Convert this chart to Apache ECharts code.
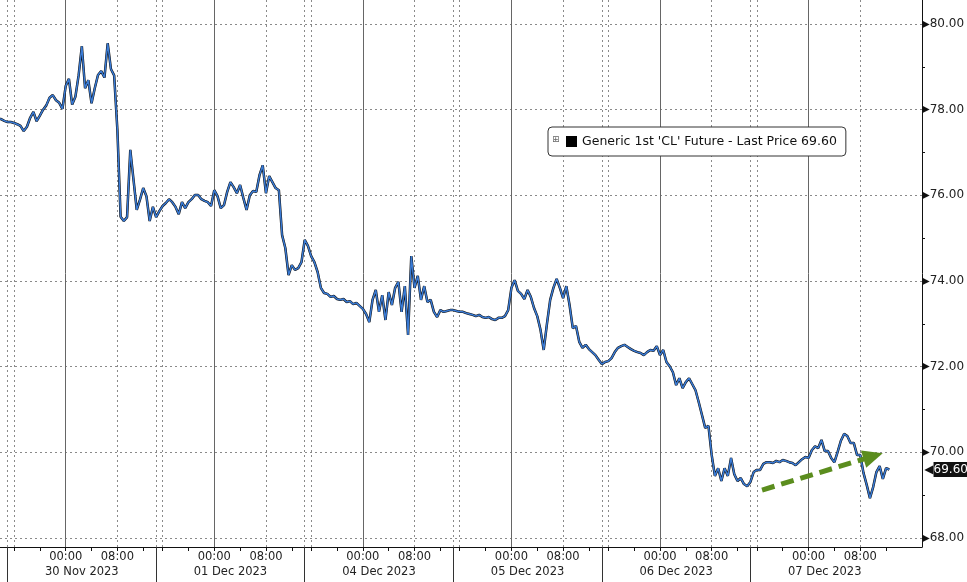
<!DOCTYPE html>
<html><head><meta charset="utf-8">
<script src="https://cdn.jsdelivr.net/npm/echarts@6/dist/echarts.min.js"></script>
<style>html,body{margin:0;padding:0;background:#fff}#c{width:967px;height:582px}</style>
</head><body><div id="c"></div>
<script>
// ---- data (half-hour samples per trading session) ----
const SERIES_NAME = "Generic 1st 'CL' Future - Last Price 69.60";
const DAY_LABELS = ['30 Nov 2023', '01 Dec 2023', '04 Dec 2023', '05 Dec 2023', '06 Dec 2023', '07 Dec 2023'];
const TIME_LABEL_MIDNIGHT = '00:00';
const TIME_LABEL_MORNING = '08:00';
const Y_TICKS = [68, 70, 72, 74, 76, 78, 80];
const Y_MINOR_TICKS = [69, 71, 73, 75, 77, 79];
const LAST_PRICE = 69.60;

const pre29Nov = [77.78, 77.78, 77.74];
const d30Nov = [77.71,77.71,77.69,77.66,77.62,77.50,77.60,77.81,77.95,77.73,
  77.86,78.00,78.10,78.28,78.34,78.22,78.16,78.02,78.55,78.72,
  78.12,78.30,78.80,79.48,78.50,78.69,78.15,78.50,78.81,78.90,
  78.75,79.55,78.95,78.80,77.53,75.50,75.40,75.49,77.06,76.36,
  75.66,75.90,76.17,75.98,75.40,75.73];
const d01Dec = [75.49,75.63,75.75,75.82,75.91,75.84,75.73,75.56,75.84,75.70,
  75.84,75.91,76.01,76.01,75.91,75.87,75.84,75.75,76.12,75.98,
  75.70,75.77,76.08,76.31,76.19,76.05,76.24,75.94,75.66,76.00,
  76.10,76.08,76.47,76.70,76.05,76.45,76.31,76.17,76.12,75.07,
  74.77,74.14,74.37,74.26,74.30,74.44];
const d04Dec = [74.96,74.82,74.58,74.44,74.21,73.84,73.72,73.70,73.63,73.65,
  73.58,73.56,73.58,73.51,73.53,73.46,73.49,73.42,73.35,73.23,
  73.04,73.56,73.79,73.28,73.67,73.09,73.74,73.44,73.84,73.98,
  73.28,73.88,72.74,74.58,73.84,74.12,73.56,73.88,73.51,73.56,
  73.28,73.16,73.32,73.28,73.30,73.32];
const d05Dec = [73.32,73.30,73.28,73.28,73.25,73.23,73.21,73.18,73.21,73.16,
  73.14,73.16,73.11,73.09,73.14,73.14,73.18,73.32,73.84,74.02,
  73.77,73.70,73.58,73.79,73.63,73.37,73.18,72.86,72.39,73.00,
  73.56,73.84,74.05,73.84,73.60,73.88,73.44,72.90,72.95,72.58,
  72.44,72.51,72.41,72.34,72.27,72.16];
const d06Dec = [72.06,72.11,72.13,72.20,72.34,72.44,72.48,72.51,72.46,72.41,
  72.37,72.34,72.32,72.27,72.34,72.39,72.37,72.48,72.27,72.39,
  72.11,72.01,71.87,71.57,71.73,71.50,71.64,71.73,71.59,71.45,
  71.17,70.87,70.57,70.62,69.94,69.45,69.63,69.33,69.63,69.45,
  69.87,69.49,69.33,69.40,69.26,69.21];
const d07Dec = [69.31,69.54,69.59,69.59,69.73,69.77,69.77,69.75,69.80,69.77,
  69.82,69.80,69.77,69.75,69.70,69.77,69.84,69.89,69.87,70.05,
  70.14,70.10,70.29,70.03,70.03,69.87,69.77,70.01,70.27,70.43,
  70.38,70.22,70.22,69.94,69.94,69.52,69.24,68.93,69.19,69.54,
  69.68,69.38,69.63,69.60];

// trend arrow annotation: [session hour index, price]
const ARROW_FROM = [115.8, 69.12];
const ARROW_TO = [133.0, 69.91];

// ---- axis structure (hours of trading, weekends removed) ----
const SESSION = 23, STEP = 0.5;
const MIDNIGHT = 8, MORNING = 16;
const X_MIN = -2.17, X_MAX = 140.56;
const Y_MIN = 67.79, Y_MAX = 80.56;

const days = [d30Nov, d01Dec, d04Dec, d05Dec, d06Dec, d07Dec];
const seriesData = [];
pre29Nov.forEach((v, i) => seriesData.push([-1 - STEP * (pre29Nov.length - i), v]));
days.forEach((arr, k) => arr.forEach((v, j) => seriesData.push([SESSION * k - 1 + STEP * j, v])));

const midnights = [], mornings = [], bounds = [], seps = [], dateCenters = [], fourHour = [];
DAY_LABELS.forEach((d, k) => {
  const s = SESSION * k;
  midnights.push(s + MIDNIGHT);
  mornings.push(s + MORNING);
  bounds.push(s - 1, s);
  seps.push(s - 1);
  dateCenters.push(s + 10.5);
  [0, 4, 8, 12, 16, 20].forEach(h => fourHour.push(s + h));
});

const FONT = 'DejaVu Sans';
const baseX = {type: 'value', min: X_MIN, max: X_MAX, position: 'bottom', gridIndex: 0,
  axisLine: {show: false, onZero: false}, splitLine: {show: false}, axisLabel: {show: false}, axisTick: {show: false}};
const gridBox = {left: 0, right: 45, top: 0, bottom: 35, containLabel: false, outerBoundsMode: 'none'};

const chart = echarts.init(document.getElementById('c'), null, {renderer: 'canvas'});
chart.setOption({
  animation: false,
  backgroundColor: '#ffffff',
  grid: [Object.assign({}, gridBox), Object.assign({}, gridBox)],
  title: {text: '\u229E', left: 552, top: 135, padding: 0,
    textStyle: {fontSize: 9, color: '#666', fontWeight: 'normal', fontFamily: FONT}},
  legend: {data: [SERIES_NAME], left: 548, top: 127, icon: 'rect', itemWidth: 11, itemHeight: 11,
    padding: [8, 9, 8, 18], backgroundColor: '#fff', borderColor: '#333', borderWidth: 1, borderRadius: 4,
    selectedMode: false, textStyle: {fontFamily: FONT, fontSize: 12.5, color: '#111'}},
  xAxis: [
    Object.assign({}, baseX, {
      axisLine: {show: true, onZero: false, lineStyle: {color: '#111', width: 1}},
      axisTick: {show: true, customValues: midnights, length: 4, lineStyle: {color: '#111'}},
      axisLabel: {show: true, customValues: midnights, margin: 4, formatter: () => TIME_LABEL_MIDNIGHT,
        fontFamily: FONT, fontSize: 11.5, color: '#222'},
      splitLine: {show: true, lineStyle: {color: '#666', width: 1, type: 'solid'}}
    }),
    Object.assign({}, baseX, {
      axisTick: {show: true, customValues: mornings.concat(bounds), length: 4, lineStyle: {color: '#111'}},
      axisLabel: {show: true, customValues: mornings, margin: 4, formatter: () => TIME_LABEL_MORNING,
        fontFamily: FONT, fontSize: 11.5, color: '#222'},
      splitLine: {show: true, lineStyle: {color: '#8a8a8a', width: 1, type: [2, 3]}}
    }),
    Object.assign({}, baseX, {
      axisTick: {show: true, customValues: fourHour, length: 4, lineStyle: {color: '#111'}}
    }),
    Object.assign({}, baseX, {
      axisTick: {show: true, customValues: seps, length: 40, lineStyle: {color: '#333'}},
      axisLabel: {show: true, customValues: dateCenters, margin: 19,
        formatter: v => DAY_LABELS[Math.round((v - 10.5) / SESSION)] || '',
        fontFamily: FONT, fontSize: 11.5, color: '#222'}
    }),
    Object.assign({}, baseX, {gridIndex: 1})
  ],
  yAxis: [
    {type: 'value', position: 'right', gridIndex: 0, min: Y_MIN, max: Y_MAX,
      axisLine: {show: true, onZero: false, lineStyle: {color: '#111', width: 1}},
      axisTick: {show: false, customValues: Y_TICKS},
      axisLabel: {show: true, customValues: Y_TICKS, margin: 0,
        formatter: v => '{t|\u25B6}{v|' + v.toFixed(2) + '}',
        rich: {t: {fontSize: 10, color: '#111', fontFamily: FONT, padding: [0, 0, 0, 0]},
               v: {fontSize: 12, color: '#222', fontFamily: FONT}}},
      splitLine: {show: true, lineStyle: {color: '#8a8a8a', width: 1, type: [2, 3]}}},
    {type: 'value', position: 'right', gridIndex: 1, min: Y_MIN, max: Y_MAX,
      axisLine: {show: false, onZero: false},
      axisTick: {show: true, customValues: Y_MINOR_TICKS, length: 3, lineStyle: {color: '#111'}},
      axisLabel: {show: false}, splitLine: {show: false}}
  ],
  series: [
    {name: SERIES_NAME, type: 'line', xAxisIndex: 0, yAxisIndex: 0, data: seriesData,
      showSymbol: false, symbol: 'none', z: 2,
      itemStyle: {color: '#000'}, lineStyle: {color: '#0b0b0b', width: 2.5},
      markLine: {silent: true, animation: false, symbol: ['none', 'triangle'], symbolSize: [18, 20],
        label: {show: false}, emphasis: {disabled: true},
        lineStyle: {color: '#5b8d1e', width: 5, type: [13, 7], opacity: 1},
        data: [[{coord: ARROW_FROM}, {coord: ARROW_TO}]]}},
    {name: 'overlay', type: 'line', xAxisIndex: 0, yAxisIndex: 0, data: seriesData,
      showSymbol: false, symbol: 'none', z: 3,
      itemStyle: {color: '#3a7bd5'}, lineStyle: {color: '#3a7bd5', width: 1.5},
      endLabel: {show: true, distance: 35,
        formatter: () => '{p|\u25C0}{v|' + LAST_PRICE.toFixed(2) + '}',
        rich: {p: {color: '#111', fontSize: 12, fontFamily: FONT},
               v: {color: '#fff', backgroundColor: '#111', fontSize: 12, fontFamily: FONT, padding: [2, 2, 1, 0]}}}}
  ]
});
</script></body></html>
